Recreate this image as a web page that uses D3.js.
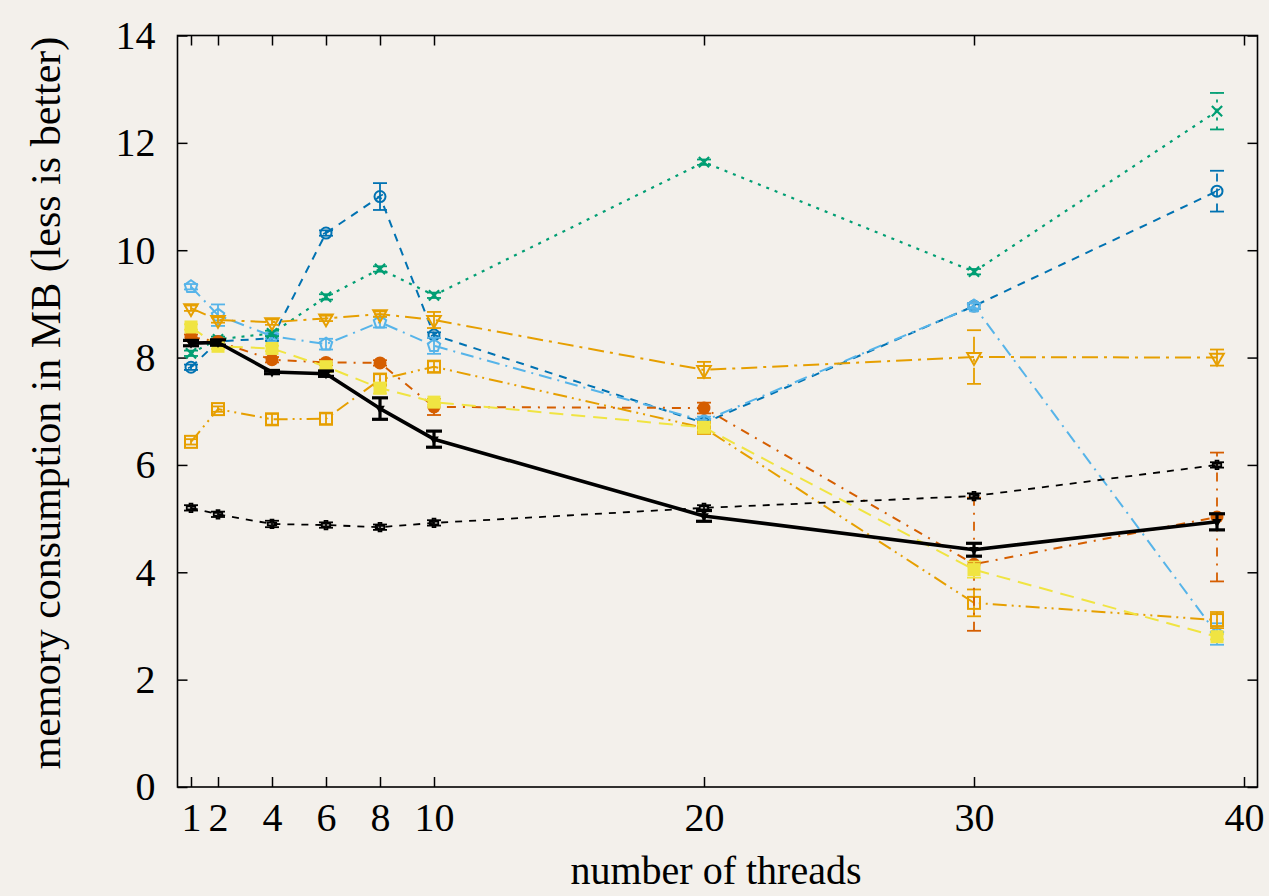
<!DOCTYPE html>
<html>
<head>
<meta charset="utf-8">
<script src="https://cdn.jsdelivr.net/npm/d3@7"></script>
<style>
  html, body { margin: 0; padding: 0; background: #f3f0eb; }
  svg { display: block; }
</style>
</head>
<body>
<script>
// thread counts on the x axis
var threads = [1, 2, 4, 6, 8, 10, 20, 30, 39];
var xTicks = [1, 2, 4, 6, 8, 10, 20, 30, 40];
var yTicks = [0, 2, 4, 6, 8, 10, 12, 14];

// memory per series (MB) and error bar half-widths
var darkBlue     = [7.82, 8.30, 8.36, 10.32, 11.00, 8.42, 6.78, 8.96, 11.10];
var darkBlueErr  = [0.05, 0.05, 0.05, 0.05, 0.25, 0.05, 0.05, 0.05, 0.38];
var lightBlue    = [9.32, 8.79, 8.40, 8.25, 8.66, 8.22, 6.82, 8.96, 2.85];
var lightBlueErr = [0.05, 0.20, 0.05, 0.10, 0.10, 0.15, 0.08, 0.05, 0.20];
var green        = [8.08, 8.34, 8.45, 9.13, 9.65, 9.16, 11.64, 9.60, 12.59];
var greenErr     = [0.05, 0.05, 0.05, 0.05, 0.05, 0.05, 0.05, 0.05, 0.34];
var orangeTri    = [8.92, 8.70, 8.66, 8.73, 8.81, 8.70, 7.77, 8.01, 8.00];
var orangeTriErr = [0.05, 0.05, 0.05, 0.05, 0.05, 0.15, 0.15, 0.50, 0.15];
var orangeSq     = [6.43, 7.04, 6.85, 6.86, 7.59, 7.83, 6.69, 3.43, 3.11];
var orangeSqErr  = [0.05, 0.05, 0.10, 0.10, 0.10, 0.10, 0.08, 0.25, 0.15];
var vermillion   = [8.38, 8.30, 7.96, 7.91, 7.90, 7.08, 7.06, 4.15, 5.03];
var vermErr      = [0.05, 0.05, 0.05, 0.05, 0.05, 0.15, 0.10, 1.24, 1.20];
var yellow       = [8.57, 8.21, 8.17, 7.83, 7.43, 7.17, 6.70, 4.05, 2.80];
var yellowErr    = [0.05, 0.05, 0.05, 0.05, 0.10, 0.05, 0.05, 0.15, 0.05];
var blackDash    = [5.20, 5.08, 4.90, 4.88, 4.84, 4.92, 5.20, 5.42, 6.00];
var blackDashErr = [0.05, 0.05, 0.06, 0.05, 0.05, 0.05, 0.05, 0.05, 0.05];
var blackSolid   = [8.27, 8.28, 7.73, 7.70, 7.05, 6.48, 5.05, 4.42, 4.94];
var blackErr     = [0.05, 0.05, 0.03, 0.05, 0.20, 0.15, 0.10, 0.12, 0.15];

var series = [
  {values: darkBlue,   err: darkBlueErr,  color: "#0072b2", dash: "8,7",            marker: "clock",    width: 2},
  {values: lightBlue,  err: lightBlueErr, color: "#56b4e9", dash: "13,6,2,6",       marker: "pentagon", width: 2},
  {values: green,      err: greenErr,     color: "#009e73", dash: "3,6",            marker: "cross",    width: 2.2},
  {values: orangeTri,  err: orangeTriErr, color: "#e69f00", dash: "16,6,3,6",       marker: "tri",      width: 2},
  {values: orangeSq,   err: orangeSqErr,  color: "#e69f00", dash: "14,5,2,5,2,5",   marker: "square",   width: 2},
  {values: vermillion, err: vermErr,      color: "#d55e00", dash: "9,7,2,7",        marker: "dot",      width: 2},
  {values: yellow,     err: yellowErr,    color: "#f0e442", dash: "14,8",           marker: "fsquare",  width: 2},
  {values: blackDash,  err: blackDashErr, color: "#000000", dash: "7,7",            marker: "plus",     width: 1.8},
  {values: blackSolid, err: blackErr,     color: "#000000", dash: null,             marker: "ftri",     width: 3.6}
];

var width = 1269,
    height = 896;

var svg = d3.select("body").append("svg")
    .attr("width", width)
    .attr("height", height);

svg.append("rect")
    .attr("width", width)
    .attr("height", height)
    .attr("fill", "#f3f0eb");

var x = d3.scaleLinear().domain([0.5, 40.5]).range([177.5, 1257.5]);
var y = d3.scaleLinear().domain([0, 14]).range([787, 35.5]);

var font = "'Liberation Serif', 'DejaVu Serif', serif";

// frame
svg.append("rect")
    .attr("x", x.range()[0])
    .attr("y", y.range()[1])
    .attr("width", x.range()[1] - x.range()[0])
    .attr("height", y.range()[0] - y.range()[1])
    .attr("fill", "none")
    .attr("stroke", "#000")
    .attr("stroke-width", 1.6);

function styleAxis(g) {
  g.select(".domain").remove();
  g.selectAll(".tick line").attr("stroke", "#000").attr("stroke-width", 1.5);
  g.selectAll(".tick text").attr("font-family", font).attr("font-size", 40).attr("fill", "#000");
}

svg.append("g")
    .attr("transform", "translate(0," + y.range()[0] + ")")
    .call(d3.axisBottom(x).tickValues(xTicks).tickFormat(d3.format("d")).tickSize(-10).tickPadding(16))
    .call(styleAxis);

svg.append("g")
    .attr("transform", "translate(0," + y.range()[1] + ")")
    .call(d3.axisTop(x).tickValues(xTicks).tickFormat("").tickSize(-10))
    .call(styleAxis);

svg.append("g")
    .attr("transform", "translate(" + x.range()[0] + ",0)")
    .call(d3.axisLeft(y).tickValues(yTicks).tickSize(-10).tickPadding(22))
    .call(styleAxis);

svg.append("g")
    .attr("transform", "translate(" + x.range()[1] + ",0)")
    .call(d3.axisRight(y).tickValues(yTicks).tickFormat("").tickSize(-10))
    .call(styleAxis);

// axis titles
svg.append("text")
    .attr("x", 716)
    .attr("y", 884)
    .attr("text-anchor", "middle")
    .attr("font-family", font)
    .attr("font-size", 40)
    .text("number of threads");

svg.append("text")
    .attr("transform", "translate(60,403) rotate(-90)")
    .attr("text-anchor", "middle")
    .attr("font-family", font)
    .attr("font-size", 42)
    .text("memory consumption in MB (less is better)");

var line = d3.line()
    .x(function(d) { return x(d.t); })
    .y(function(d) { return y(d.v); });

function drawMarker(g, s, px, py) {
  var c = s.color;
  if (s.marker == "clock") {
    g.append("circle").attr("cx", px).attr("cy", py).attr("r", 5.5)
      .attr("fill", "none").attr("stroke", c).attr("stroke-width", 2);
    g.append("path").attr("d", "M" + (px - 3) + "," + (py + 1) + "L" + (px + 3) + "," + (py - 2))
      .attr("stroke", c).attr("stroke-width", 1.5);
  } else if (s.marker == "pentagon") {
    var pts = d3.range(5).map(function(i) {
      var a = -Math.PI / 2 + i * 2 * Math.PI / 5;
      return [px + 6.5 * Math.cos(a), py + 6.5 * Math.sin(a)];
    });
    g.append("path").attr("d", "M" + pts.join("L") + "Z")
      .attr("fill", "none").attr("stroke", c).attr("stroke-width", 2);
  } else if (s.marker == "cross") {
    g.append("path").attr("d", d3.symbol(d3.symbolX, 70)())
      .attr("transform", "translate(" + px + "," + py + ")")
      .attr("fill", "none").attr("stroke", c).attr("stroke-width", 2.2);
  } else if (s.marker == "tri") {
    g.append("path").attr("d", d3.symbol(d3.symbolTriangle, 80)())
      .attr("transform", "translate(" + px + "," + py + ") rotate(180)")
      .attr("fill", "none").attr("stroke", c).attr("stroke-width", 2);
  } else if (s.marker == "square") {
    g.append("rect").attr("x", px - 6).attr("y", py - 6).attr("width", 12).attr("height", 12)
      .attr("fill", "none").attr("stroke", c).attr("stroke-width", 2);
  } else if (s.marker == "dot") {
    g.append("circle").attr("cx", px).attr("cy", py).attr("r", 6.5).attr("fill", c);
  } else if (s.marker == "fsquare") {
    g.append("rect").attr("x", px - 6.5).attr("y", py - 6.5).attr("width", 13).attr("height", 13)
      .attr("fill", c);
  } else if (s.marker == "plus") {
    g.append("path").attr("d", d3.symbol(d3.symbolCross, 40)())
      .attr("transform", "translate(" + px + "," + py + ")")
      .attr("fill", "none").attr("stroke", c).attr("stroke-width", 1.8);
  } else if (s.marker == "ftri") {
    g.append("path").attr("d", d3.symbol(d3.symbolTriangle, 40)())
      .attr("transform", "translate(" + px + "," + py + ") rotate(180)")
      .attr("fill", c);
  }
}

series.forEach(function(s) {
  var g = svg.append("g");
  var pts = threads.map(function(t, i) { return {t: t, v: s.values[i], e: s.err[i]}; });

  g.append("path")
    .datum(pts)
    .attr("d", line)
    .attr("fill", "none")
    .attr("stroke", s.color)
    .attr("stroke-width", s.width)
    .attr("stroke-dasharray", s.dash)
    .attr("stroke-linejoin", "round");

  var bw = s.marker == "ftri" ? 8 : 7;
  pts.forEach(function(d) {
    var px = x(d.t), y0 = y(d.v - d.e), y1 = y(d.v + d.e);
    var eb = g.append("g")
      .attr("stroke", s.color)
      .attr("stroke-width", s.marker == "ftri" ? 3.2 : 1.8);
    eb.append("line").attr("x1", px).attr("x2", px).attr("y1", y0).attr("y2", y1)
      .attr("stroke-dasharray", d.e > 0.3 ? s.dash : null);
    eb.append("line").attr("x1", px - bw).attr("x2", px + bw).attr("y1", y0).attr("y2", y0);
    eb.append("line").attr("x1", px - bw).attr("x2", px + bw).attr("y1", y1).attr("y2", y1);
    drawMarker(g, s, px, y(d.v));
  });
});
</script>
</body>
</html>
